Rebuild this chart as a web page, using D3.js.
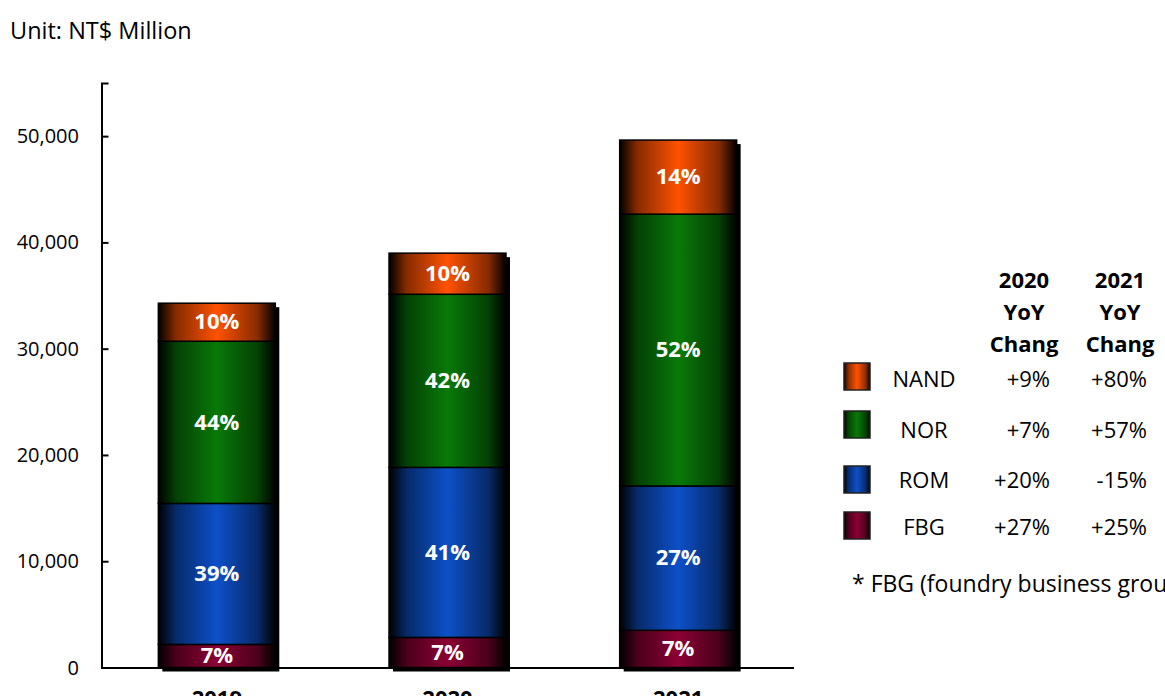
<!DOCTYPE html>
<html>
<head>
<meta charset="utf-8">
<script src="https://cdn.jsdelivr.net/npm/d3@7"></script>
<style>
  html, body { margin: 0; padding: 0; background: #fff; }
  svg { display: block; font-family: "Open Sans", Lato, sans-serif; }
</style>
</head>
<body>
<svg id="chart" width="1165" height="696"></svg>
<script>
// ---- data ----
const years = ["2019", "2020", "2021"];
const seriesNames = ["FBG", "ROM", "NOR", "NAND"];
const fbgValues  = [2170, 2830, 3500];
const romValues  = [13270, 16000, 13580];
const norValues  = [15260, 16290, 25580];
const nandValues = [3580, 3870, 6970];
const segmentLabels = {
  FBG:  ["7%", "7%", "7%"],
  ROM:  ["39%", "41%", "27%"],
  NOR:  ["44%", "42%", "52%"],
  NAND: ["10%", "10%", "14%"]
};
const yTicks = [0, 10000, 20000, 30000, 40000, 50000];
const legendOrder = ["NAND", "NOR", "ROM", "FBG"];
const yoyHeaders = ["2020", "2021"];
const yoy2020 = { NAND: "+9%", NOR: "+7%", ROM: "+20%", FBG: "+27%" };
const yoy2021 = { NAND: "+80%", NOR: "+57%", ROM: "-15%", FBG: "+25%" };
const colors = { NAND: "#ff5200", NOR: "#087a08", ROM: "#0d50c8", FBG: "#8c0034" };

// ---- build table ----
const valuesBySeries = { FBG: fbgValues, ROM: romValues, NOR: norValues, NAND: nandValues };
const table = years.map((y, i) => {
  const row = { year: y };
  seriesNames.forEach(s => row[s] = valuesBySeries[s][i]);
  return row;
});
const stacked = d3.stack().keys(seriesNames)(table);

const svg = d3.select("#chart");

// gradients
const defs = svg.append("defs");
seriesNames.forEach(s => {
  const g = defs.append("linearGradient").attr("id", "grad-" + s)
    .attr("x1", "0").attr("x2", "1").attr("y1", "0").attr("y2", "0");
  const c = d3.color(colors[s]);
  g.append("stop").attr("offset", "0").attr("stop-color", "#000");
  g.append("stop").attr("offset", "0.15").attr("stop-color", c.darker(1.8));
  g.append("stop").attr("offset", "0.5").attr("stop-color", c);
  g.append("stop").attr("offset", "0.85").attr("stop-color", c.darker(1.8));
  g.append("stop").attr("offset", "1").attr("stop-color", "#000");
});

// scales
const x = d3.scaleBand().domain(years).range([101.5, 793.5])
  .paddingInner(0.493).paddingOuter(0.2465);
const y = d3.scaleLinear().domain([0, 55000]).range([667.5, 83]);

// title
svg.append("text").attr("x", 10).attr("y", 39)
  .attr("font-size", 23.5).attr("fill", "#000").text("Unit: NT$ Million");

// shadows
const totals = table.map(r => seriesNames.reduce((a, s) => a + r[s], 0));
svg.append("g").selectAll("rect").data(table).join("rect")
  .attr("x", d => x(d.year) + 4)
  .attr("y", (d, i) => y(totals[i]) + 4)
  .attr("width", x.bandwidth())
  .attr("height", (d, i) => y(0) - y(totals[i]))
  .attr("fill", "#000");

// bars
const layers = svg.append("g").selectAll("g").data(stacked).join("g")
  .attr("fill", d => `url(#grad-${d.key})`);
layers.selectAll("rect").data(d => d).join("rect")
  .attr("x", d => x(d.data.year))
  .attr("y", d => y(d[1]))
  .attr("width", x.bandwidth())
  .attr("height", d => y(d[0]) - y(d[1]))
  .attr("stroke", "#000").attr("stroke-width", 1.5);

// segment labels
stacked.forEach(layer => {
  svg.append("g").selectAll("text").data(layer).join("text")
    .attr("x", d => x(d.data.year) + x.bandwidth() / 2)
    .attr("y", d => (y(d[0]) + y(d[1])) / 2)
    .attr("dy", "0.33em")
    .attr("text-anchor", "middle")
    .attr("font-size", 22).attr("font-weight", "bold").attr("fill", "#fff")
    .text((d, i) => segmentLabels[layer.key][i]);
});

// y axis
const yAxis = d3.axisRight(y).tickValues(yTicks).tickSize(7).tickFormat("");
const yg = svg.append("g").attr("transform", "translate(101.5,0)").call(yAxis);
yg.select(".domain").attr("stroke", "#000").attr("stroke-width", 2);
yg.selectAll(".tick line").attr("stroke", "#000").attr("stroke-width", 2);
svg.append("g").selectAll("text").data(yTicks).join("text")
  .attr("x", 79).attr("y", d => y(d)).attr("dy", "0.35em")
  .attr("text-anchor", "end").attr("font-size", 20).attr("fill", "#000")
  .text(d => d3.format(",")(d));

// x axis
const xAxis = d3.axisBottom(x).tickSize(0).tickFormat("");
const xg = svg.append("g").attr("transform", `translate(0,${y(0)})`).call(xAxis);
xg.select(".domain").attr("stroke", "#000").attr("stroke-width", 2);
svg.append("g").selectAll("text").data(years).join("text")
  .attr("x", d => x(d) + x.bandwidth() / 2).attr("y", 706)
  .attr("text-anchor", "middle").attr("font-size", 22).attr("font-weight", "bold")
  .text(d => d);

// legend table
const headerCenters = [1024, 1120];
const headerLines = [["2020", "YoY", "Chang"], ["2021", "YoY", "Chang"]];
const headerBaselines = [288, 320, 352];
headerLines.forEach((lines, ci) => {
  lines.forEach((t, li) => {
    svg.append("text").attr("x", headerCenters[ci]).attr("y", headerBaselines[li])
      .attr("text-anchor", "middle").attr("font-size", 22).attr("font-weight", "bold")
      .text(t);
  });
});
const rowBaselines = { NAND: 387, NOR: 438, ROM: 488, FBG: 535 };
const swatchTops = { NAND: 363, NOR: 411, ROM: 466, FBG: 512 };
const lg = svg.append("g");
lg.selectAll("rect").data(legendOrder).join("rect")
  .attr("x", 844).attr("y", d => swatchTops[d]).attr("width", 26).attr("height", 27)
  .attr("fill", d => `url(#grad-${d})`).attr("stroke", "#222").attr("stroke-width", 1.5);
lg.selectAll("text.name").data(legendOrder).join("text").attr("class", "name")
  .attr("x", 924).attr("y", d => rowBaselines[d]).attr("text-anchor", "middle")
  .attr("font-size", 22).text(d => d);
lg.selectAll("text.c1").data(legendOrder).join("text").attr("class", "c1")
  .attr("x", 1050).attr("y", d => rowBaselines[d]).attr("text-anchor", "end")
  .attr("font-size", 22).text(d => yoy2020[d]);
lg.selectAll("text.c2").data(legendOrder).join("text").attr("class", "c2")
  .attr("x", 1147).attr("y", d => rowBaselines[d]).attr("text-anchor", "end")
  .attr("font-size", 22).text(d => yoy2021[d]);

svg.append("text").attr("x", 852).attr("y", 592).attr("font-size", 23)
  .text("* FBG (foundry business group)");
</script>
</body>
</html>
